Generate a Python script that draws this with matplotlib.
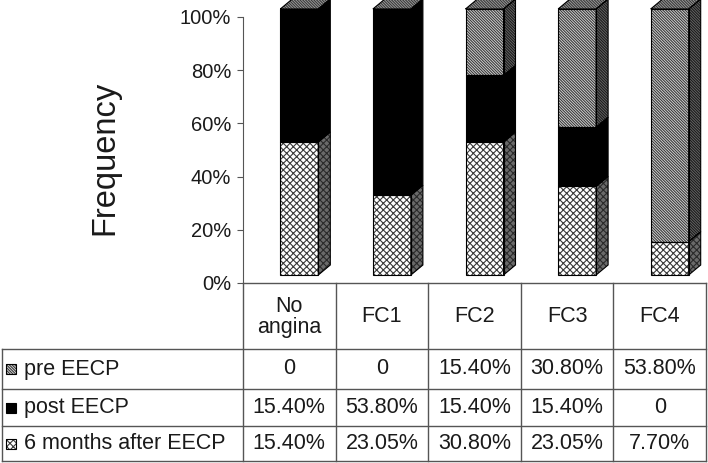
import matplotlib
matplotlib.use("Agg")
import matplotlib.pyplot as plt
from matplotlib.patches import Polygon, Rectangle
import numpy as np

plt.rcParams['font.family'] = ['Liberation Sans', 'DejaVu Sans']
plt.rcParams['hatch.linewidth'] = 0.8

categories = ['No\nangina', 'FC1', 'FC2', 'FC3', 'FC4']
series_names = ['pre EECP', 'post EECP', '6 months after EECP']
pre_eecp = [0, 0, 15.40, 30.80, 53.80]
post_eecp = [15.40, 53.80, 15.40, 15.40, 0]
six_months = [15.40, 23.05, 30.80, 23.05, 7.70]
y_ticks = [0, 0.2, 0.4, 0.6, 0.8, 1.0]

W, H = 708, 463
fig = plt.figure(figsize=(W / 100, H / 100), dpi=100)

# pixel layout of the plot area and the table under it
x_left, x_right = 243, 706
y_top, y_zero = 17, 283
row_lines = [283, 349, 389, 426, 461]
ncol = len(categories)
col_w = (x_right - x_left) / ncol

# 3d look, in pixels
front_dx, front_dy = 10, 8
depth_dx, depth_dy = 12, 10
bar_px = 38

tab = fig.add_axes([0, 0, 1, 1])
tab.set_xlim(0, W)
tab.set_ylim(H, 0)
tab.axis('off')

ax = fig.add_axes([x_left / W, (H - y_zero) / H, (x_right - x_left) / W, (y_zero - y_top) / H])
ax.set_xlim(0, ncol)
ax.set_ylim(0, 1)
ax.patch.set_visible(False)
for s in ['top', 'right', 'bottom']:
    ax.spines[s].set_visible(False)
ax.spines['left'].set_color('#555555')
ax.set_xticks([])
ax.set_yticks(y_ticks)
ax.set_yticklabels([f'{int(t * 100)}%' for t in y_ticks])
ax.tick_params(axis='y', length=4.5, width=0.8, color='#555555', pad=4, labelsize=14.5, labelcolor='#1a1a1a')

# data -> unit conversions
ux = 1 / col_w
uy = 1 / (y_zero - y_top)
ox, oy = front_dx * ux, front_dy * uy
ddx, ddy = depth_dx * ux, depth_dy * uy
bw = bar_px * ux

diag = '\\' * 12
waves = 'x' * 5
styles = {
    '6 months after EECP': dict(face='white', hatch=waves, hcol='#3a3a3a',
                                side='#6a6a6a', side_hatch=waves, side_hcol='#2a2a2a'),
    'post EECP': dict(face='black', hatch=None, hcol='black',
                      side='black', side_hatch=None, side_hcol='black'),
    'pre EECP': dict(face='#dcdcdc', hatch=diag, hcol='#3a3a3a',
                     side='#6a6a6a', side_hatch=diag, side_hcol='#1a1a1a'),
}
top_style = dict(face='#a0a0a0', hatch=diag, hcol='#3a3a3a')

vals = np.array([pre_eecp, post_eecp, six_months], dtype=float)
shares = vals / vals.sum(axis=0)
stack = [('6 months after EECP', shares[2]), ('post EECP', shares[1]), ('pre EECP', shares[0])]

xc = np.arange(ncol) + 0.5 + ox
bottom = np.zeros(ncol)
for name, h in stack:
    st = styles[name]
    ax.bar(xc, h, bw, bottom=bottom + oy, color=st['face'], edgecolor=st['hcol'],
           hatch=st['hatch'], linewidth=0, clip_on=False, zorder=2)
    ax.bar(xc, h, bw, bottom=bottom + oy, fill=False, edgecolor='black',
           linewidth=0.8, clip_on=False, zorder=3)
    for i in range(ncol):
        if h[i] <= 0:
            continue
        xr = xc[i] + bw / 2
        y0, y1 = bottom[i] + oy, bottom[i] + h[i] + oy
        pts = [(xr, y0), (xr + ddx, y0 + ddy), (xr + ddx, y1 + ddy), (xr, y1)]
        ax.add_patch(Polygon(pts, closed=True, facecolor=st['side'], edgecolor=st['side_hcol'],
                             hatch=st['side_hatch'], linewidth=0, clip_on=False, zorder=2))
        ax.add_patch(Polygon(pts, closed=True, fill=False, edgecolor='black',
                             linewidth=0.8, clip_on=False, zorder=3))
    bottom = bottom + h

# top faces
for i in range(ncol):
    xl, xr = xc[i] - bw / 2, xc[i] + bw / 2
    yt = bottom[i] + oy
    pts = [(xl, yt), (xl + ddx, yt + ddy), (xr + ddx, yt + ddy), (xr, yt)]
    ax.add_patch(Polygon(pts, closed=True, facecolor=top_style['face'], edgecolor=top_style['hcol'],
                         hatch=top_style['hatch'], linewidth=0, clip_on=False, zorder=2))
    ax.add_patch(Polygon(pts, closed=True, fill=False, edgecolor='black',
                         linewidth=0.8, clip_on=False, zorder=3))

# y label
tab.text(105, 158, 'Frequency', rotation=90, ha='center', va='center', fontsize=23.5, color='#1a1a1a')

# table grid
lc, lw = '#555555', 1.0
tab.plot([x_left, x_right], [row_lines[0]] * 2, color=lc, lw=lw)
for y in row_lines[1:]:
    tab.plot([2, x_right], [y, y], color=lc, lw=lw)
tab.plot([2, 2], [row_lines[1], row_lines[-1]], color=lc, lw=lw)
for j in range(ncol + 1):
    xx = x_left + j * col_w
    tab.plot([xx, xx], [row_lines[0], row_lines[-1]], color=lc, lw=lw)

# header
for j, c in enumerate(categories):
    tab.text(x_left + (j + 0.5) * col_w, 317, c, ha='center', va='center',
             fontsize=15.5, linespacing=1.05, color='#1a1a1a')

# rows
row_vals = [pre_eecp, post_eecp, six_months]
for r, name in enumerate(series_names):
    ym = (row_lines[r + 1] + row_lines[r + 2]) / 2
    st = styles[name]
    tab.add_patch(Rectangle((6, ym - 5), 10, 10, facecolor=st['face'], edgecolor=st['hcol'],
                            hatch=st['hatch'], linewidth=0))
    tab.add_patch(Rectangle((6, ym - 5), 10, 10, fill=False, edgecolor='black', linewidth=0.8))
    tab.text(24, ym, name, ha='left', va='center', fontsize=15.5, color='#1a1a1a')
    for j, v in enumerate(row_vals[r]):
        txt = '0' if v == 0 else f'{v:.2f}%'
        tab.text(x_left + (j + 0.5) * col_w, ym, txt, ha='center', va='center',
                 fontsize=15.5, color='#1a1a1a')

fig.savefig('out.png', dpi=100)
